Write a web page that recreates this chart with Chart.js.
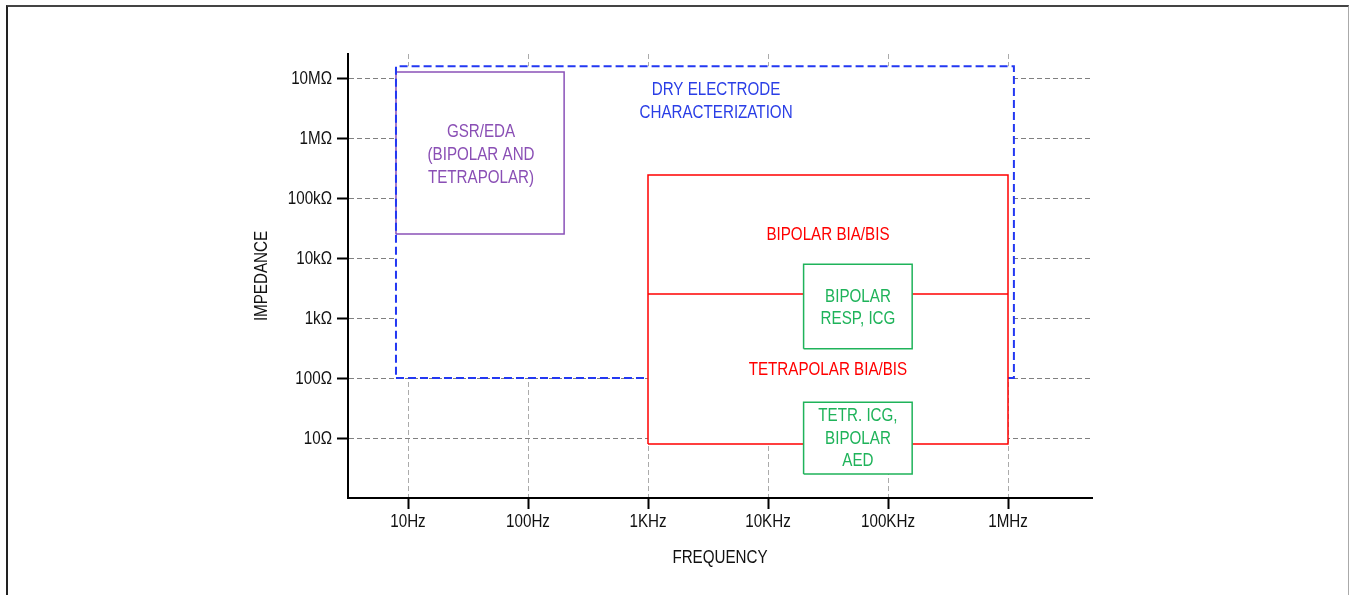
<!DOCTYPE html>
<html>
<head>
<meta charset="utf-8">
<script src="https://cdn.jsdelivr.net/npm/chart.js@4"></script>
<style>
  body { margin: 0; background: #fff; }
  #wrap { position: relative; width: 1349px; height: 595px; overflow: hidden; }
  #frame {
    position: absolute; left: 6px; top: 5px; width: 1343px; height: 600px;
    box-sizing: border-box; pointer-events: none;
    border-top: 2px solid #444; border-left: 2px solid #222; border-right: 1px solid #aaa;
  }
</style>
</head>
<body>
<div id="wrap">
  <canvas id="myChart" width="1349" height="595"></canvas>
  <div id="frame"></div>
</div>
<script>
// axis ticks (decades)
const freqTicks = [10, 100, 1e3, 1e4, 1e5, 1e6];
const freqLabels = ['10Hz', '100Hz', '1KHz', '10KHz', '100KHz', '1MHz'];
const impTicks = [10, 100, 1e3, 1e4, 1e5, 1e6, 1e7];
const impLabels = ['10Ω', '100Ω', '1kΩ', '10kΩ', '100kΩ', '1MΩ', '10MΩ'];
const xTitle = 'FREQUENCY';
const yTitle = 'IMPEDANCE';

// regions: [low, high] for frequency (Hz) and impedance (Ohm)
const dryFreq = [7.94, 1.12e6];
const dryImp = [100, 1.57e7];
const gsrFreq = [7.94, 200];
const gsrImp = [2.5e4, 1.26e7];
const biaFreq = [1e3, 1e6];
const biaImp = [7.94, 2.42e5];
const biaSplitImp = 2510;
const respFreq = [1.98e4, 1.59e5];
const respImp = [308, 7.85e3];
const icgFreq = [1.98e4, 1.59e5];
const icgImp = [2.51, 39.4];

// region labels
const noteText = [
  ['DRY ELECTRODE', 'CHARACTERIZATION'],
  ['GSR/EDA', '(BIPOLAR AND', 'TETRAPOLAR)'],
  ['BIPOLAR BIA/BIS'],
  ['TETRAPOLAR BIA/BIS'],
  ['BIPOLAR', 'RESP, ICG'],
  ['TETR. ICG,', 'BIPOLAR', 'AED']
];
const noteFreq = [3690, 40.6, 31600, 31600, 56200, 56200];
const noteImp = [4.2e6, 5.4e5, 2.51e4, 141, 1525, 10.2];

const BLUE = '#2338f2';
const PURPLE = '#8a52b8';
const RED = '#ff0000';
const GREEN = '#1fb35a';
const noteColor = ['#2a3ee6', '#8a4fb5', RED, RED, GREEN, GREEN];

// the reference uses a narrow face; squeeze Liberation Sans to match
const FONT = "18.5px 'Liberation Sans', Arial, sans-serif";
const SQUEEZE = 0.82;

function rect(freq, imp) {
  return [
    {x: freq[0], y: imp[0]}, {x: freq[1], y: imp[0]},
    {x: freq[1], y: imp[1]}, {x: freq[0], y: imp[1]},
    {x: freq[0], y: imp[0]}
  ];
}

function box(data, color, width, order, extra) {
  return Object.assign({
    data: data,
    showLine: true,
    borderColor: color,
    borderWidth: width,
    backgroundColor: '#fff',
    fill: 'shape',
    pointRadius: 0,
    tension: 0,
    order: order
  }, extra || {});
}

function narrowText(ctx, text, x, y, align, rotate) {
  ctx.save();
  ctx.translate(x, y);
  if (rotate) ctx.rotate(-Math.PI / 2);
  ctx.scale(SQUEEZE, 1);
  ctx.textAlign = align;
  ctx.fillText(text, 0, 0);
  ctx.restore();
}

const textPlugin = {
  id: 'texts',
  afterDraw(chart) {
    const ctx = chart.ctx;
    const xs = chart.scales.x, ys = chart.scales.y;
    const area = chart.chartArea;
    ctx.save();
    ctx.font = FONT;
    ctx.textBaseline = 'middle';

    // region notes
    noteText.forEach((lines, i) => {
      const cx = xs.getPixelForValue(noteFreq[i]);
      const cy = ys.getPixelForValue(noteImp[i]) + 1;
      const lh = 22.7;
      ctx.fillStyle = noteColor[i];
      lines.forEach((t, j) => {
        narrowText(ctx, t, cx, cy + (j - (lines.length - 1) / 2) * lh, 'center');
      });
    });

    // tick labels and axis titles
    ctx.fillStyle = '#111';
    freqTicks.forEach((v, i) => {
      narrowText(ctx, freqLabels[i], xs.getPixelForValue(v), area.bottom + 24, 'center');
    });
    impTicks.forEach((v, i) => {
      narrowText(ctx, impLabels[i], area.left - 16, ys.getPixelForValue(v) + 1, 'right');
    });
    narrowText(ctx, xTitle, (area.left + area.right) / 2, area.bottom + 60, 'center');
    narrowText(ctx, yTitle, area.left - 86, (area.top + area.bottom) / 2, 'center', true);
    ctx.restore();
  }
};

let ctx = document.getElementById('myChart').getContext('2d');
let myChart = new Chart(ctx, {
  type: 'scatter',
  data: {
    datasets: [
      box(rect(dryFreq, dryImp), 'rgba(0,0,0,0)', 1, 9),
      box(rect(gsrFreq, gsrImp), PURPLE, 1.5, 8),
      box(rect(dryFreq, dryImp), BLUE, 2, 7, {fill: false, borderDash: [8, 4]}),
      box(rect(biaFreq, biaImp), RED, 1.5, 6),
      box([{x: biaFreq[0], y: biaSplitImp}, {x: biaFreq[1], y: biaSplitImp}], RED, 1.5, 5, {fill: false}),
      box(rect(respFreq, respImp), GREEN, 1.5, 4),
      box(rect(icgFreq, icgImp), GREEN, 1.5, 3)
    ]
  },
  options: {
    responsive: false,
    animation: false,
    layout: { padding: { left: 248, top: 54, right: 257, bottom: 23 } },
    plugins: { legend: { display: false }, tooltip: { enabled: false } },
    scales: {
      x: {
        type: 'logarithmic',
        min: Math.pow(10, 0.5),
        max: Math.pow(10, 6.7),
        afterFit: (scale) => { scale.height = 74; },
        afterBuildTicks: (scale) => { scale.ticks = freqTicks.map(v => ({value: v})); },
        ticks: { display: false, autoSkip: false },
        grid: {
          color: '#ababab',
          lineWidth: 1,
          tickLength: 11,
          tickColor: '#000',
          tickWidth: 2,
          tickBorderDash: []
        },
        border: { color: '#000', width: 2, dash: [5, 3] }
      },
      y: {
        type: 'logarithmic',
        min: 1,
        max: Math.pow(10, 7.4),
        afterFit: (scale) => { scale.width = 100; },
        afterBuildTicks: (scale) => { scale.ticks = impTicks.map(v => ({value: v})); },
        ticks: { display: false, autoSkip: false },
        grid: {
          color: '#808080',
          lineWidth: 1,
          tickLength: 11,
          tickColor: '#000',
          tickWidth: 2,
          tickBorderDash: []
        },
        border: { color: '#000', width: 2, dash: [5, 3] }
      }
    }
  },
  plugins: [textPlugin]
});
</script>
</body>
</html>
